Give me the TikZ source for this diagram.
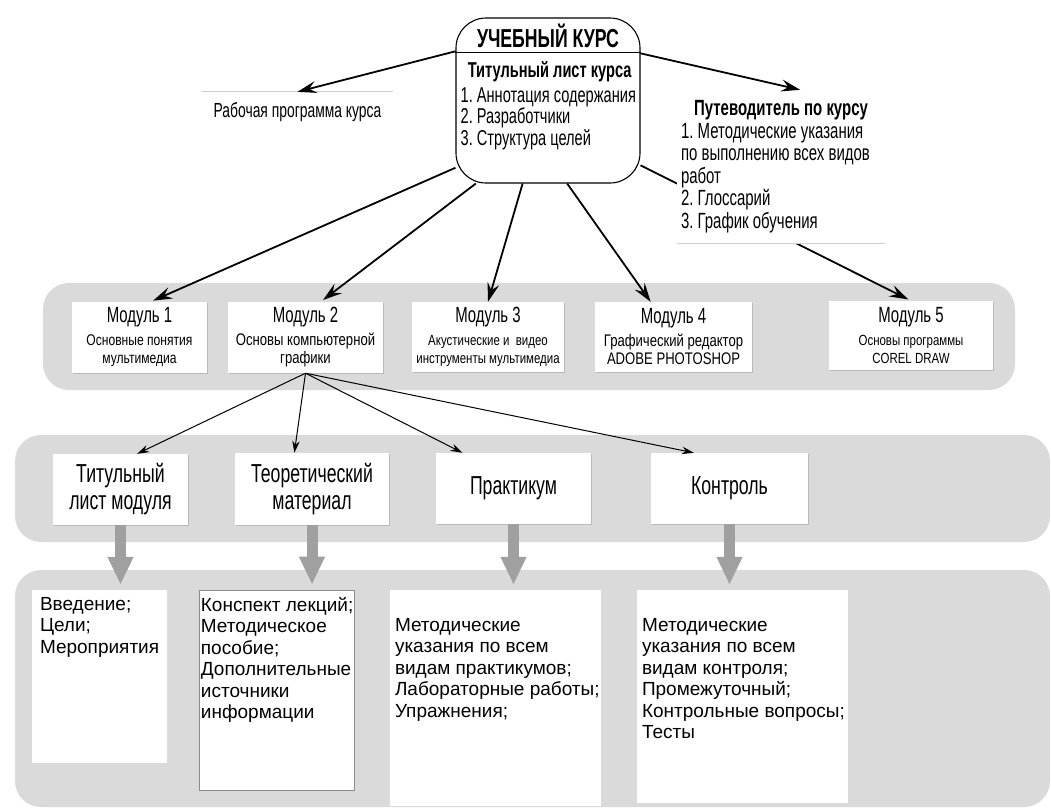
\documentclass[tikz,border=0pt]{standalone}
\usepackage{fontspec}
\setmainfont{Liberation Sans}
\newfontfamily\narrowsf{Liberation Sans}[FakeStretch=0.68]
\newfontfamily\modsf{Liberation Sans}[FakeStretch=0.78]
\usepackage{tikz}
\usetikzlibrary{arrows.meta,calc,shadows}
\definecolor{bandgray}{RGB}{217,218,217}
\definecolor{arrowgray}{RGB}{160,160,160}
\definecolor{rulegray}{RGB}{205,205,205}
\frenchspacing
\tikzset{
  band/.style={fill=bandgray, rounded corners=26pt},
  kursbox/.style={draw, line width=1.1pt, fill=white, rounded corners=30pt,
    minimum width=184pt, minimum height=165pt},
  module/.style n args={3}{fill=white, inner sep=0pt, align=flush center,
    minimum width=#1pt, text width=#1pt, minimum height=#2pt,
    font=\modsf\fontsize{#3}{18}\selectfont,
    drop shadow={shadow xshift=1.2pt, shadow yshift=-1.2pt, fill=black!40}},
  part/.style 2 args={fill=white, inner sep=0pt, align=flush center,
    minimum width=#1pt, text width=#1pt, minimum height=#2pt,
    font=\narrowsf\fontsize{26}{27}\selectfont,
    drop shadow={shadow xshift=1.2pt, shadow yshift=-1.2pt, fill=black!40}},
  sheet/.style 2 args={fill=white, inner sep=0pt, minimum width=#1pt, minimum height=#2pt},
  sheettext/.style={anchor=north west, align=left, inner sep=0pt,
    font=\fontsize{19}{21.5}\selectfont},
  bigarrow/.style={line width=1.8pt, -{Stealth[length=19pt, width=12pt, inset=7pt]}},
  thinarrow/.style={line width=1pt, -{Stealth[length=12pt, width=7.5pt, inset=4pt]}},
  grayarrow/.style={draw=arrowgray, line width=11pt, shorten >=5pt,
    -{Triangle[length=28pt, width=24pt]}},
  thinrule/.style={draw=rulegray, line width=0.8pt}
}
\newcommand{\modname}[1]{{\narrowsf\fontsize{22}{22}\selectfont #1}}

\begin{document}
\begin{tikzpicture}[x=1pt,y=-1pt]
      \useasboundingbox (0,0) rectangle (1051,807);
      \fill[band] (43,283) rectangle (1015,390);
      \fill[band] (15,435) rectangle (1050,542);
      \fill[band] (15,570) rectangle (1050,807);

      \node[module={135}{71}{15.5}] (m1) at (139.5,337.5) {\modname{Модуль 1}\\[5pt]Основные понятия\\мультимедиа};
      \node[module={155}{71}{16.8}] (m2) at (305.5,337.5) {\modname{Модуль 2}\\[5pt]Основы компьютерной\\графики};
      \node[module={152}{70}{14.7}] (m3) at (488,337) {\modname{Модуль 3}\\[5pt]Акустические и~ видео\\инструменты мультимедиа};
      \node[module={157}{70}{16.8}] (m4) at (673.5,337) {\modname{Модуль 4}\\[5pt]Графический редактор\\ADOBE PHOTOSHOP};
      \node[module={164}{69}{14.7}] (m5) at (911,335.5) {\modname{Модуль 5}\\[5pt]Основы программы\\COREL DRAW};

      \node[part={135}{71}] (tit) at (120.5,489.5) {Титульный\\лист модуля};
      \node[part={154}{72}] (teo) at (312,489) {Теоретический\\материал};
      \node[part={155}{71}] (prak) at (513.5,488.5) {Практикум};
      \node[part={157}{71}] (kon) at (729.5,488.5) {Контроль};

      \node[sheet={135}{173}] (v1) at (99.5,676.5) {};
      \node[sheet={155}{200}, draw=black!45, line width=0.6pt] (v2) at (276.5,690) {};
      \node[sheet={211}{216}] (v3) at (495.5,698) {};
      \node[sheet={211}{213}] (v4) at (742.5,696.5) {};
      \node[sheettext] (v1text) at ($(v1.north west)+(8,7)$) {Введение;\\Цели;\\Мероприятия};
      \node[sheettext] (v2text) at ($(v2.north west)+(2,7)$) {Конспект лекций;\\Методическое\\пособие;\\Дополнительные\\источники\\информации};
      \node[sheettext] (v3text) at ($(v3.north west)+(5,28)$) {Методические\\указания по всем\\видам практикумов;\\Лабораторные работы;\\Упражнения;};
      \node[sheettext] (v4text) at ($(v4.north west)+(5,28)$) {Методические\\указания по всем\\видам контроля;\\Промежуточный;\\Контрольные вопросы;\\Тесты};

      \node[kursbox] (kurs) at (548,100.5) {};
      \draw[line width=1.1pt] ($(kurs.north west)+(0,35)$) -- ($(kurs.north east)+(0,35)$);
      \node[font=\narrowsf\bfseries\fontsize{26}{26}\selectfont] (kursname) at (548,36) {УЧЕБНЫЙ КУРС};
      \node[anchor=north west, text width=190pt, align=flush left, inner sep=0pt,
        font=\narrowsf\fontsize{21.5}{21.5}\selectfont] (kursbody) at ($(kurs.north west)+(5,44)$)
        {\hfill\textbf{Титульный лист курса}\hfill\hspace*{12pt}\null\\[3pt]1. Аннотация содержания\\2. Разработчики\\3. Структура целей};

      \node[font=\narrowsf\fontsize{20.4}{20}\selectfont, minimum width=191pt, minimum height=40pt] (rab) at (297.5,112) {Рабочая программа курса};
      \draw[thinrule] (rab.north west) -- (rab.north east);

      \draw[bigarrow, shorten >=3pt] (kurs.325.2) -- (m5.north);
      \node[fill=white, text width=200pt, inner xsep=4pt, minimum height=153pt, align=flush left,
        font=\narrowsf\fontsize{22}{22.5}\selectfont] (put) at (781,166.5)
        {\hfill\textbf{Путеводитель по курсу}\hfill\null\\1. Методические указания\\по выполнению всех видов\\работ\\2. Глоссарий\\3. График обучения};
      \draw[thinrule] (put.south west) -- (put.south east);

      \draw[bigarrow] (kurs.152.7) -- (rab.north);
      \draw[bigarrow] (kurs.27.3) -- (put.76);
      \draw[bigarrow, shorten >=3pt] (kurs.216.5) -- (m1.73.5);
      \draw[bigarrow, shorten >=3pt] (kurs.229.3) -- (m2.67.8);
      \draw[bigarrow] (kurs.253.1) -- (m3.north);
      \draw[bigarrow] (kurs.283.6) -- (m4.123.5);

      \draw[thinarrow] (m2.south) -- (tit.65);
      \draw[thinarrow] (m2.south) -- (teo.116);
      \draw[thinarrow] (m2.south) -- (prak.145.4);
      \draw[thinarrow] (m2.south) -- (kon.135);

      \draw[grayarrow] (tit.south) -- (tit.south |- v1.north);
      \draw[grayarrow] (teo.south) -- (teo.south |- v2.north);
      \draw[grayarrow] (prak.south) -- (prak.south |- v3.north);
      \draw[grayarrow] (kon.south) -- (kon.south |- v4.north);
\end{tikzpicture}
\end{document}
